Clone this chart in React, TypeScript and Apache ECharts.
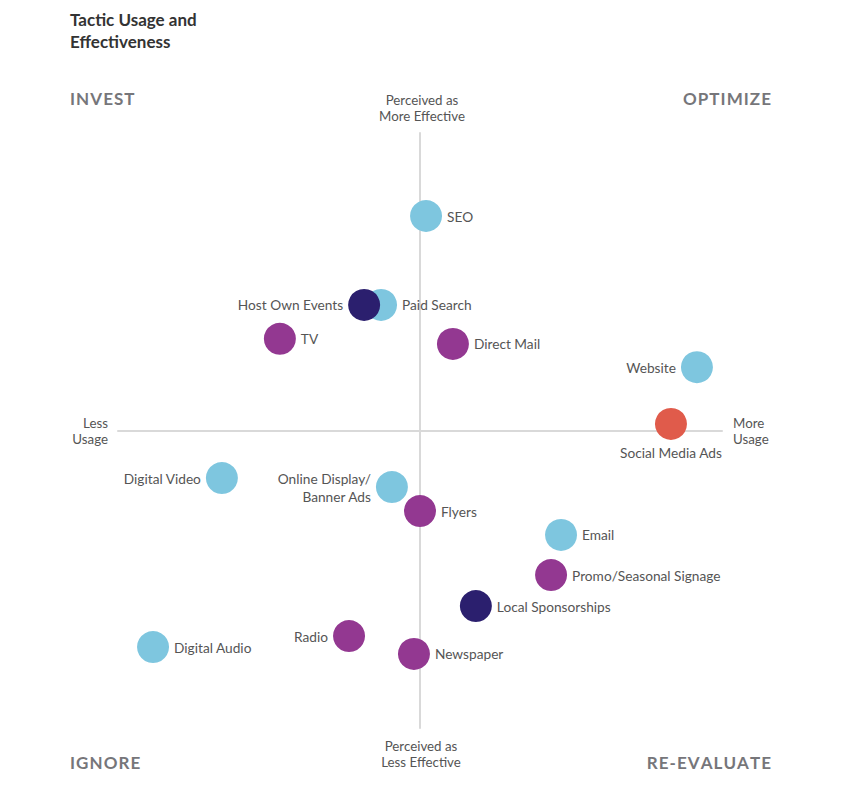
import React, { useEffect, useRef } from "react";
import * as echarts from "echarts";

const tactics = [
  "SEO", "Paid Search", "Host Own Events", "TV", "Direct Mail", "Website", "Social Media Ads",
  "Digital Video", "Online Display/\nBanner Ads", "Flyers", "Email", "Promo/Seasonal Signage",
  "Local Sponsorships", "Radio", "Newspaper", "Digital Audio",
];
const usage = [2.0, -12.9, -18.5, -46.4, 10.9, 91.7, 83.1, -65.6, -9.3, 0, 46.7, 43.4, 18.5, -23.5, -2.0, -88.4];
const effectiveness = [72.1, 42.2, 42.2, 30.8, 29.1, 21.3, 2.2, -16.0, -19.0, -27.1, -35.1, -48.6, -59.0, -69.1, -75.1, -72.8];
const tacticType = [
  "digital", "digital", "community", "traditional", "traditional", "digital", "social",
  "digital", "digital", "traditional", "digital", "traditional",
  "community", "traditional", "traditional", "digital",
];
const quadrants = ["INVEST", "OPTIMIZE", "IGNORE", "RE-EVALUATE"];

const typeColor: Record<string, string> = {
  digital: "#7ec6df",
  traditional: "#933891",
  community: "#2b1f6e",
  social: "#e05b4b",
};
const leftLabels = new Set(["Host Own Events", "Website", "Digital Video", "Online Display/\nBanner Ads", "Radio"]);
const bottomLabels = new Set(["Social Media Ads"]);

const FONT = "Lato, 'Noto Sans', sans-serif";
const spaced = (s: string) => s.split("").join("\u200A");

export default function App() {
  const ref = useRef<HTMLDivElement>(null);
  useEffect(() => {
    if (!ref.current) return;
    const chart = echarts.init(ref.current, undefined, { renderer: "svg" });
    const data = tactics.map((name, i) => {
      const pos = bottomLabels.has(name) ? "bottom" : leftLabels.has(name) ? "left" : "right";
      return {
        name,
        value: [usage[i], effectiveness[i]],
        itemStyle: { color: typeColor[tacticType[i]] },
        label: {
          position: pos,
          align: pos === "left" ? "right" : pos === "bottom" ? "center" : "left",
          distance: pos === "bottom" ? 4 : 5,
        },
      };
    });
    const qStyle = { fill: "#76767a", fontSize: 17, fontWeight: "bold", fontFamily: FONT };
    const axisText = { fill: "#555", fontSize: 13.3, fontFamily: FONT, lineHeight: 16 };
    chart.setOption({
      animation: false,
      grid: { left: 118, right: 121, top: 133, bottom: 72 },
      xAxis: {
        type: "value", min: -100, max: 100,
        axisLine: { onZero: true, lineStyle: { color: "#d9d9d9", width: 2 } },
        axisTick: { show: false }, axisLabel: { show: false }, splitLine: { show: false },
      },
      yAxis: {
        type: "value", min: -100, max: 100,
        axisLine: { onZero: true, lineStyle: { color: "#d9d9d9", width: 2 } },
        axisTick: { show: false }, axisLabel: { show: false }, splitLine: { show: false },
      },
      series: [
        {
          type: "scatter",
          symbolSize: 32,
          data,
          itemStyle: { opacity: 1 },
          label: {
            show: true,
            formatter: "{b}",
            color: "#555",
            fontSize: 13.7,
            fontFamily: FONT,
            lineHeight: 18,
          },
          emphasis: { disabled: true },
        },
      ],
      graphic: [
        { type: "text", left: 70, top: 8, style: { text: "Tactic Usage and\nEffectiveness", fill: "#333", fontSize: 17, fontWeight: "bold", fontFamily: FONT, lineHeight: 22 } },
        { type: "text", left: 70, top: 90, style: { text: spaced(quadrants[0]), ...qStyle } },
        { type: "text", right: 72, top: 90, style: { text: spaced(quadrants[1]), ...qStyle } },
        { type: "text", left: 70, top: 754, style: { text: spaced(quadrants[2]), ...qStyle } },
        { type: "text", right: 72, top: 754, style: { text: spaced(quadrants[3]), ...qStyle } },
        { type: "text", x: 422, y: 92, style: { text: "Perceived as\nMore Effective", align: "center", ...axisText } },
        { type: "text", x: 421, y: 738, style: { text: "Perceived as\nLess Effective", align: "center", ...axisText } },
        { type: "text", x: 108, y: 415, style: { text: "Less\nUsage", align: "right", ...axisText } },
        { type: "text", x: 733, y: 415, style: { text: "More\nUsage", align: "left", ...axisText } },
      ],
    });
    return () => chart.dispose();
  }, []);
  return <div ref={ref} style={{ position: "fixed", left: 0, top: 0, width: 843, height: 800, background: "#fff" }} />;
}
